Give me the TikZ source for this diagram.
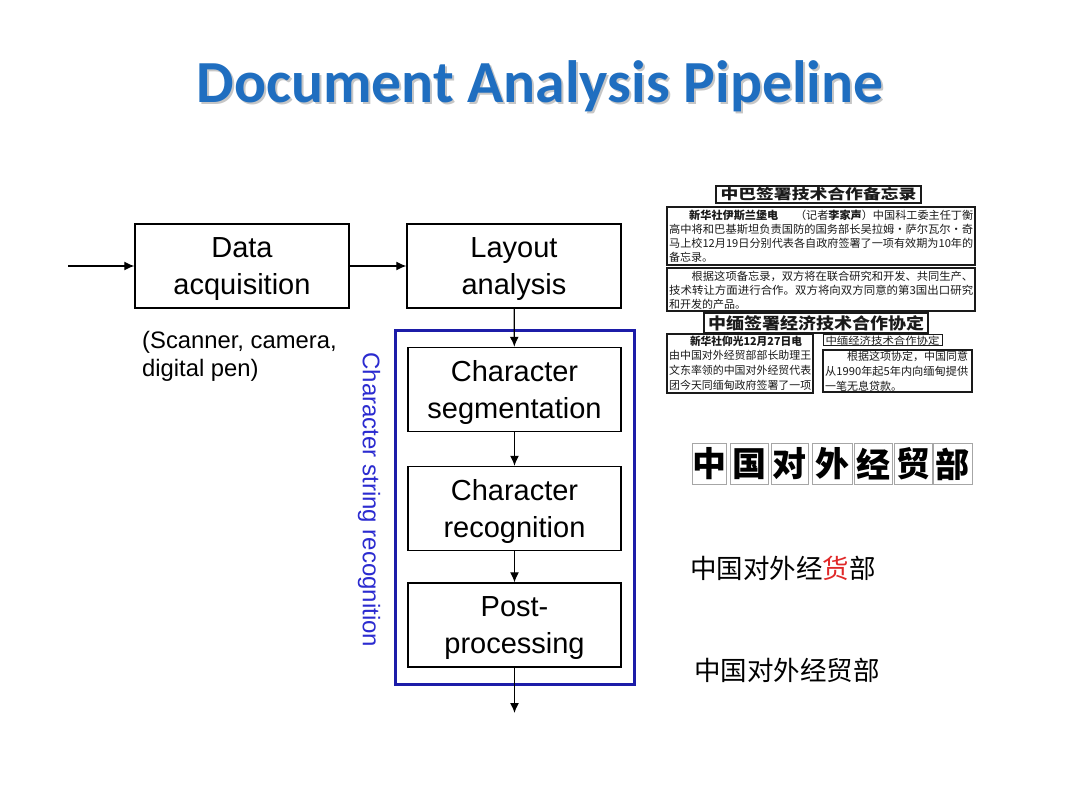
\documentclass[tikz,border=0pt]{standalone}
\usepackage{fontspec}
\setmainfont{Liberation Sans}
\newfontfamily\titlefont{Carlito}
\newfontfamily\cjk{Noto Sans CJK SC}
\usetikzlibrary{arrows.meta}
\definecolor{titleblue}{HTML}{1F6EC0}
\definecolor{frameblue}{HTML}{1C1CA8}
\definecolor{labelblue}{HTML}{2B2BD0}
\definecolor{redchar}{HTML}{E02828}
\definecolor{scanink}{HTML}{1A1A1A}
\newsavebox\fitbox
\newcommand\fitto[2]{\sbox\fitbox{#2}\edef\fitratio{\fpeval{(#1)/(\the\wd\fitbox)}}\scalebox{\fitratio}[1]{\usebox\fitbox}}
\begin{document}
\begin{tikzpicture}[x=1pt,y=-1pt,
  procbox/.style={draw, line width=1.4pt, minimum width=213pt, minimum height=84pt, inner sep=0pt,
    align=center, text depth=0pt, font=\fontsize{29}{37}\selectfont},
  arr/.style={-{Latex[length=10pt,width=9pt]}, line width=1.3pt},
  scanbox/.style={draw=scanink, line width=1.3pt},
  scanline/.style={anchor=west, inner sep=0pt, text=scanink, font=\cjk\fontsize{11}{13}\selectfont},
  charbox/.style={draw=gray!70, line width=1pt, minimum height=40pt, inner sep=0pt,
    font=\cjk\bfseries\fontsize{34}{34}\selectfont},
  cnrow/.style={inner sep=0pt, font=\cjk\fontsize{26.5}{30}\selectfont}]
\useasboundingbox (0,0) rectangle (1080,810);
\fill[white] (0,0) rectangle (1080,810);

% title
\node[font=\titlefont\bfseries\fontsize{59.7}{64}\selectfont, text=gray!45] (titleshadow) at (542,88) {Document Analysis Pipeline};
\node[font=\titlefont\bfseries\fontsize{59.7}{64}\selectfont, text=titleblue] (title) at (540,86) {Document Analysis Pipeline};

% pipeline
\node[procbox, minimum width=214pt] (da) at (242,266) {Data\\acquisition};
\node[procbox, minimum width=214pt] (la) at (514,266) {Layout\\analysis};
\node[draw=frameblue, line width=3pt, minimum width=239pt, minimum height=353pt, inner sep=0pt] (frame) at (514.5,507.5) {};
\node[procbox] (seg) at (514.5,389.5) {Character\\segmentation};
\node[procbox] (rec) at (514.5,508.5) {Character\\recognition};
\node[procbox] (post) at (514.5,625) {Post-\\processing};
\coordinate (in) at (68,266);
\coordinate (out) at (514.5,713);
\draw[arr] (in) -- (da);
\draw[arr] (da) -- (la);
\draw[arr] (la) -- (seg);
\draw[arr] (seg) -- (rec);
\draw[arr] (rec) -- (post);
\draw[arr] (post) -- (out);

\node[anchor=north west, align=left, inner sep=0pt, font=\fontsize{23.8}{28}\selectfont] (scan) at (142,331) {(Scanner, camera,\\digital pen)};
\node[rotate=-90, text=labelblue, inner sep=0pt, font=\fontsize{24}{28}\selectfont] (csr) at (369,500) {Character string recognition};

% scanned document
\draw[scanbox] (716,186) rectangle (921,203);
\node[inner sep=0pt, text=scanink, font=\cjk\bfseries\fontsize{14}{14}\selectfont] (t1) at (818.5,194.5) {\fitto{196}{中巴签署技术合作备忘录}};
\draw[scanbox] (667,207) rectangle (975,265);
\node[scanline] (p1a) at (669,215.5) {\fitto{304}{\hspace{1.8em}\textbf{新华社伊斯兰堡电}\hspace{1.5em}（记者\textbf{李家声}）中国科工委主任丁衡}};
\node[scanline] (p1b) at (669,229.5) {\fitto{304}{高中将和巴基斯坦负责国防的国务部长吴拉姆·萨尔瓦尔·奇}};
\node[scanline] (p1c) at (669,243.5) {\fitto{304}{马上校12月19日分别代表各自政府签署了一项有效期为10年的}};
\node[scanline] (p1d) at (669,257.5) {备忘录。};
\draw[scanbox] (667,268) rectangle (975,311);
\node[scanline] (p2a) at (669,276) {\fitto{304}{\hspace{2em}根据这项备忘录，双方将在联合研究和开发、共同生产、}};
\node[scanline] (p2b) at (669,290) {\fitto{304}{技术转让方面进行合作。双方将向双方同意的第3国出口研究}};
\node[scanline] (p2c) at (669,304) {和开发的产品。};
\draw[scanbox] (704,313) rectangle (928,333);
\node[inner sep=0pt, text=scanink, font=\cjk\bfseries\fontsize{16}{16}\selectfont] (t2) at (816,323) {\fitto{216}{中缅签署经济技术合作协定}};
\draw[scanbox] (667,334) rectangle (813,393);
\node[inner sep=0pt, text=scanink, font=\cjk\bfseries\fontsize{11}{13}\selectfont] (p3a) at (746,341.5) {\fitto{112}{新华社仰光12月27日电}};
\node[scanline] (p3b) at (669,355.5) {\fitto{142}{由中国对外经贸部部长助理王}};
\node[scanline] (p3c) at (669,370.5) {\fitto{142}{文东率领的中国对外经贸代表}};
\node[scanline] (p3d) at (669,385) {\fitto{142}{团今天同缅甸政府签署了一项}};
\draw[scanbox, line width=1pt] (823,335) rectangle (942,346);
\node[inner sep=0pt, text=scanink, font=\cjk\fontsize{10}{10}\selectfont] (p4h) at (882.5,340.5) {\fitto{114}{中缅经济技术合作协定}};
\draw[scanbox] (823,350) rectangle (972,392);
\node[scanline] (p4a) at (825,356) {\fitto{143}{\hspace{2em}根据这项协定，中国同意}};
\node[scanline] (p4b) at (825,371) {\fitto{143}{从1990年起5年内向缅甸提供}};
\node[scanline] (p4c) at (825,386) {一笔无息贷款。};

% segmented characters
\node[charbox, minimum width=34pt] (c1) at (709,464) {中};
\node[charbox, minimum width=38pt] (c2) at (749,464) {国};
\node[charbox, minimum width=37pt] (c3) at (789.5,464) {对};
\node[charbox, minimum width=40pt] (c4) at (832,464) {外};
\node[charbox, minimum width=38pt] (c5) at (873,464) {经};
\node[charbox, minimum width=38pt] (c6) at (913,464) {贸};
\node[charbox, minimum width=39pt] (c7) at (952.5,464) {部};

% recognition results
\node[cnrow] (r1) at (783,568) {中国对外经\textcolor{redchar}{货}部};
\node[cnrow] (r2) at (787,670) {中国对外经贸部};
\end{tikzpicture}
\end{document}
